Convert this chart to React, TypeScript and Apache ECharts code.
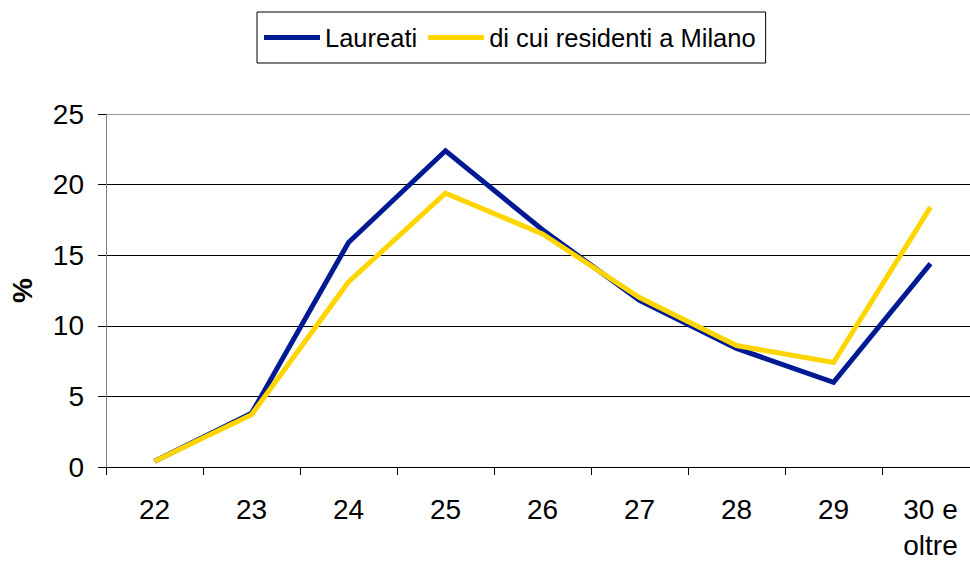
import React, { useEffect, useRef } from "react";
import * as echarts from "echarts";

const categories = ["22", "23", "24", "25", "26", "27", "28", "29", "30 e\noltre"];
const laureati = [0.4, 3.8, 15.9, 22.4, 16.8, 11.8, 8.4, 6.0, 14.4];
const residentiMilano = [0.4, 3.7, 13.1, 19.4, 16.5, 12.0, 8.6, 7.4, 18.4];
const seriesNames = ["Laureati", "di cui residenti a Milano"];

const FONT = "'Liberation Sans', Arial, sans-serif";

export default function App() {
  const ref = useRef<HTMLDivElement>(null);
  useEffect(() => {
    if (!ref.current) return;
    const chart = echarts.init(ref.current, null, { renderer: "svg" });
    chart.setOption({
      animation: false,
      backgroundColor: "#ffffff",
      textStyle: { fontFamily: FONT },
      legend: {
        left: 257,
        top: 12,
        orient: "horizontal",
        borderColor: "#000",
        borderWidth: 1,
        padding: [11, 10, 11, 7],
        itemGap: 11,
        itemWidth: 56,
        itemHeight: 5,
        icon: "rect",
        textStyle: { fontSize: 25.5, color: "#000", fontFamily: FONT, lineHeight: 29, padding: [0, 0, 0, 0] },
        data: seriesNames,
      },
      grid: { left: 106, top: 114, width: 873, height: 353, outerBoundsMode: "none", containLabel: false },
      xAxis: {
        type: "category",
        data: categories,
        boundaryGap: true,
        axisLine: { lineStyle: { color: "#000", width: 1 } },
        axisTick: { show: true, length: 8, lineStyle: { color: "#000" }, alignWithLabel: false },
        axisLabel: { color: "#000", fontSize: 28, fontFamily: FONT, margin: 24, lineHeight: 36, interval: 0 },
      },
      yAxis: {
        type: "value",
        min: 0,
        max: 25,
        interval: 5,
        name: "%",
        nameLocation: "middle",
        nameRotate: 90,
        nameGap: 70,
        nameTextStyle: { fontSize: 28, fontWeight: "bold", color: "#000", fontFamily: FONT },
        axisLine: { show: true, lineStyle: { color: "#808080", width: 1 } },
        axisTick: { show: true, length: 8, lineStyle: { color: "#000" } },
        axisLabel: { color: "#000", fontSize: 28, fontFamily: FONT, margin: 22 },
        splitLine: {
          show: true,
          lineStyle: { color: ["#000", "#000", "#000", "#000", "#000", "#999"], width: 1 },
        },
      },
      series: [
        {
          name: seriesNames[0],
          type: "line",
          data: laureati,
          symbol: "none",
          lineStyle: { color: "#001A94", width: 5, join: "miter" },
          itemStyle: { color: "#001A94" },
        },
        {
          name: seriesNames[1],
          type: "line",
          data: residentiMilano,
          symbol: "none",
          lineStyle: { color: "#FFD500", width: 5, join: "miter" },
          itemStyle: { color: "#FFD500" },
        },
      ],
    });
    return () => chart.dispose();
  }, []);
  return (
    <div
      ref={ref}
      style={{ position: "fixed", left: 0, top: 0, width: 970, height: 563, background: "#fff" }}
    />
  );
}
